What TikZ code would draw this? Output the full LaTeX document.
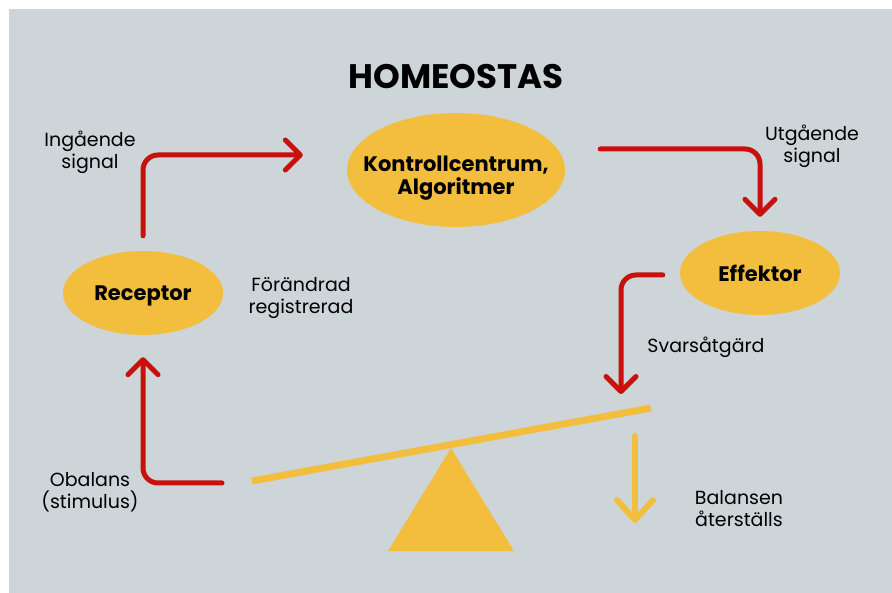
\documentclass[tikz,border=0pt]{standalone}
\usepackage{fontspec}
\setmainfont{Poppins}
\usetikzlibrary{shapes.geometric, arrows.meta, positioning, calc}
\definecolor{bggray}{RGB}{205,213,217}
\definecolor{sunyellow}{RGB}{243,190,62}
\definecolor{signalred}{RGB}{200,16,12}

\begin{document}
\begin{tikzpicture}[x=1pt, y=-1pt,
    organ/.style={ellipse, fill=sunyellow, inner sep=0pt},
    organtext/.style={align=center, font=\fontsize{21}{23}\selectfont\bfseries},
    flow/.style={draw=signalred, line width=5pt, rounded corners=15pt, line cap=round,
        -{Straight Barb[length=15pt, width=30pt, round]}},
    note/.style={align=center, font=\fontsize{19}{22}\selectfont}]
    % background
    \fill[white] (0,0) rectangle (892,593);
    \fill[bggray] (9,9) rectangle (892,593);
    \useasboundingbox (0,0) rectangle (892,593);

    \node[font=\fontsize{34}{40}\selectfont\bfseries] (title) at (456,77) {HOMEOSTAS};

    % organs
    \node[organ, minimum width=218pt, minimum height=114pt] (kc) at (456,170) {};
    \node[organ, minimum width=160pt, minimum height=84pt] (eff) at (760,273) {};
    \node[organ, minimum width=160pt, minimum height=84pt] (rec) at (143,293) {};
    \node[organtext] (kctext) at ($(kc)+(0,8)$) {Kontrollcentrum,\\Algoritmer};
    \node[organtext] (efftext) at ($(eff)+(0,0)$) {Effektor};
    \node[organtext] (rectext) at ($(rec)+(0,3)$) {Receptor};

    % seesaw
    \coordinate (plankL) at (252,481);
    \coordinate (plankR) at (651,408);
    \coordinate (push) at (621,394);
    \draw[sunyellow, line width=7pt] (plankL) -- (plankR);
    \fill[sunyellow] (451,448) -- (514,551) -- (388,551) -- cycle;
    \draw[sunyellow, line width=6pt, line cap=round,
        -{Straight Barb[length=20pt, width=36pt, round]}] (635,436) -- (635,523);

    % signal loop
    \draw[flow] ($(rec.north)+(0,-15)$) |- ($(kc.west)+(-44,-15)$);
    \draw[flow] ($(kc.east)+(35,-21)$) -| ($(eff.north)+(0,-14)$);
    \draw[flow] ($(eff.west)+(-17,2)$) -| (push);
    \draw[flow] ($(plankL)+(-30,2)$) -| ($(rec.south)+(0,22)$);

    % labels
    \node[note] (insig) at (90,152) {Ingående\\signal};
    \node[note] (utsig) at (812,146) {Utgående\\signal};
    \node[note] (reg) at (301,298) {Förändrad\\registrerad};
    \node[note] (svar) at (706,347) {Svarsåtgärd};
    \node[note] (obal) at (90,492) {Obalans\\(stimulus)};
    \node[note] (bal) at (739,509) {Balansen\\återställs};
\end{tikzpicture}
\end{document}
